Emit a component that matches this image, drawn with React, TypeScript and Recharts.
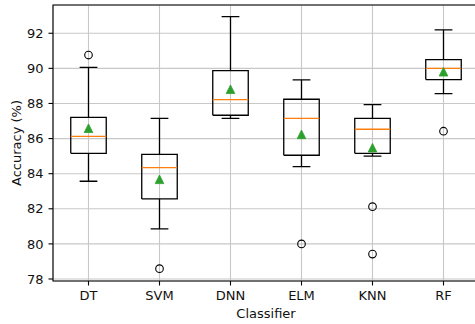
import React from "react";
import {
  ScatterChart,
  Scatter,
  XAxis,
  YAxis,
  CartesianGrid,
  ReferenceArea,
  Label,
} from "recharts";

const categories = ["DT", "SVM", "DNN", "ELM", "KNN", "RF"];
const whiskerLow = [83.57, 80.85, 87.15, 84.4, 85.0, 88.56];
const q1 = [85.16, 82.56, 87.33, 85.05, 85.16, 89.36];
const median = [86.13, 84.34, 88.22, 87.15, 86.53, 90.0];
const q3 = [87.21, 85.1, 89.87, 88.24, 87.15, 90.5];
const whiskerHigh = [90.06, 87.15, 92.95, 89.34, 87.93, 92.19];
const means = [86.59, 83.68, 88.81, 86.24, 85.48, 89.81];
const outliers = [[90.76], [78.59], [], [80.0], [82.12, 79.42], [86.42]];
const yTicks = [78, 80, 82, 84, 86, 88, 90, 92];

const Y_MIN = 77.886;
const Y_MAX = 93.61;
const BOX_HALF = 0.25;
const CAP_HALF = 0.125;
const FONT = "DejaVu Sans";

type Pt = { x: number; y: number };

// polylines per box, all in data units
const boxes: Pt[][] = categories.map((_, i) => {
  const x = i + 1;
  return [
    { x: x - BOX_HALF, y: q1[i] },
    { x: x + BOX_HALF, y: q1[i] },
    { x: x + BOX_HALF, y: q3[i] },
    { x: x - BOX_HALF, y: q3[i] },
    { x: x - BOX_HALF, y: q1[i] },
  ];
});

const upperWhiskers: Pt[][] = categories.map((_, i) => {
  const x = i + 1;
  return [
    { x, y: q3[i] },
    { x, y: whiskerHigh[i] },
    { x: x - CAP_HALF, y: whiskerHigh[i] },
    { x: x + CAP_HALF, y: whiskerHigh[i] },
  ];
});

const lowerWhiskers: Pt[][] = categories.map((_, i) => {
  const x = i + 1;
  return [
    { x, y: q1[i] },
    { x, y: whiskerLow[i] },
    { x: x - CAP_HALF, y: whiskerLow[i] },
    { x: x + CAP_HALF, y: whiskerLow[i] },
  ];
});

const medians: Pt[][] = categories.map((_, i) => [
  { x: i + 1 - BOX_HALF, y: median[i] },
  { x: i + 1 + BOX_HALF, y: median[i] },
]);

const meanPoints: Pt[] = means.map((m, i) => ({ x: i + 1, y: m }));
const outlierPoints: Pt[] = outliers.flatMap((vals, i) =>
  vals.map((v) => ({ x: i + 1, y: v }))
);

const noShape = () => <g />;

const Triangle = (props: any) => {
  const { cx, cy } = props;
  const h = 4.3;
  return (
    <polygon
      points={`${cx},${cy - h} ${cx - h},${cy + h} ${cx + h},${cy + h}`}
      fill="#2ca02c"
      stroke="#2ca02c"
      strokeWidth={0.8}
    />
  );
};

const Ring = (props: any) => {
  const { cx, cy } = props;
  return <circle cx={cx} cy={cy} r={3.8} fill="none" stroke="#000" strokeWidth={1.1} />;
};

const tickStyle = { fontFamily: FONT, fontSize: 13, fill: "#111" };

export default function App() {
  return (
    <div
      style={{
        position: "absolute",
        left: 0,
        top: 0,
        width: 475,
        height: 324,
        overflow: "hidden",
        background: "#fff",
      }}
    >
      <ScatterChart
        width={479}
        height={324}
        margin={{ top: 5, right: 0, bottom: 0, left: 0 }}
      >
        <CartesianGrid stroke="#c8c8c8" strokeWidth={1.1} />
        <XAxis
          type="number"
          dataKey="x"
          domain={[0.5, 6.5]}
          ticks={[1, 2, 3, 4, 5, 6]}
          tickFormatter={(v: number) => categories[v - 1]}
          allowDataOverflow
          height={43}
          axisLine={false}
          tickLine={{ stroke: "#000", strokeWidth: 1.1 }}
          tickSize={4.5}
          tickMargin={5}
          tick={tickStyle}
        >
          <Label
            value="Classifier"
            position="insideBottom"
            offset={6.5}
            style={{ fontFamily: FONT, fontSize: 13, fill: "#111" }}
          />
        </XAxis>
        <YAxis
          type="number"
          dataKey="y"
          domain={[Y_MIN, Y_MAX]}
          ticks={yTicks}
          allowDataOverflow
          width={53}
          axisLine={false}
          tickLine={{ stroke: "#000", strokeWidth: 1.1 }}
          tickSize={4.5}
          tickMargin={5}
          tick={tickStyle}
        >
          <Label
            value="Accuracy (%)"
            angle={-90}
            position="insideLeft"
            offset={16}
            style={{ fontFamily: FONT, fontSize: 13, fill: "#111", textAnchor: "middle" }}
          />
        </YAxis>
        <ReferenceArea
          x1={0.5}
          x2={6.5}
          y1={Y_MIN}
          y2={Y_MAX}
          fill="none"
          stroke="#000"
          strokeWidth={1.1}
          fillOpacity={0}
        />
        {boxes.map((pts, i) => (
          <Scatter
            key={"box" + i}
            data={pts}
            line={{ stroke: "#000", strokeWidth: 1.3 }}
            shape={noShape}
            isAnimationActive={false}
          />
        ))}
        {upperWhiskers.map((pts, i) => (
          <Scatter
            key={"up" + i}
            data={pts}
            line={{ stroke: "#000", strokeWidth: 1.3 }}
            shape={noShape}
            isAnimationActive={false}
          />
        ))}
        {lowerWhiskers.map((pts, i) => (
          <Scatter
            key={"lo" + i}
            data={pts}
            line={{ stroke: "#000", strokeWidth: 1.3 }}
            shape={noShape}
            isAnimationActive={false}
          />
        ))}
        {medians.map((pts, i) => (
          <Scatter
            key={"med" + i}
            data={pts}
            line={{ stroke: "#ff7f0e", strokeWidth: 1.3 }}
            shape={noShape}
            isAnimationActive={false}
          />
        ))}
        <Scatter data={meanPoints} shape={Triangle} isAnimationActive={false} />
        <Scatter data={outlierPoints} shape={Ring} isAnimationActive={false} />
      </ScatterChart>
    </div>
  );
}
